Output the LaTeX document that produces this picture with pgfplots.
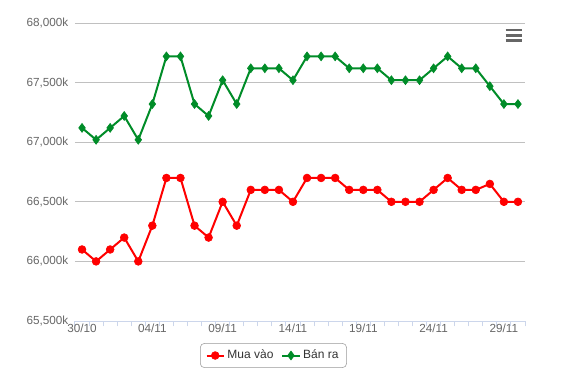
\documentclass[border=0pt]{standalone}
\usepackage{fontspec}
\setmainfont{Liberation Sans}
\usepackage{pgfplots}
\pgfplotsset{compat=1.18}
\definecolor{redline}{RGB}{255,0,0}
\definecolor{greenline}{RGB}{0,140,40}
\definecolor{gridc}{RGB}{192,192,192}
\definecolor{axisc}{RGB}{204,214,235}
\definecolor{labc}{RGB}{102,102,102}
\begin{document}
\begin{tikzpicture}
\begin{axis}[
  name=ax,
  scale only axis,
  width=337.5pt, height=223.5pt,
  xmin=-0.5, xmax=31.5,
  ymin=65500, ymax=68000,
  scaled y ticks=false,
  ytick={65500,66000,66500,67000,67500,68000},
  yticklabels={{65,500k},{66,000k},{66,500k},{67,000k},{67,500k},{68,000k}},
  xtick={0,5,10,15,20,25,30},
  xticklabels={30/10,04/11,09/11,14/11,19/11,24/11,29/11},
  minor xtick={-0.5,0.5,...,31.5},
  major tick length=0pt,
  minor tick length=4pt,
  tick align=outside,
  minor tick style={draw=axisc, line width=0.75pt},
  axis x line*=bottom,
  axis y line*=left,
  x axis line style={draw=axisc, line width=0.75pt, -},
  y axis line style={draw=none},
  ymajorgrids,
  grid style={draw=gridc, line width=0.75pt},
  ticklabel style={font=\fontsize{8.8pt}{10pt}\selectfont, text=labc},
  yticklabel style={xshift=-1.5pt},
  xticklabel style={yshift=1.5pt},
  /pgf/number format/assume math mode=true,
  legend style={at={(0.441,-0.1158)}, anchor=center, draw=gray!80, rounded corners=3pt,
    font=\fontsize{9pt}{11pt}\selectfont, text=black!80, legend columns=2,
    /tikz/every even column/.append style={column sep=4pt}, inner ysep=3pt, inner xsep=4pt},
  legend image code/.code={\draw[#1] (0pt,0pt) -- (0.45cm,0pt); \draw[#1, mark repeat=1] plot coordinates {(0.225cm,0pt)};},
  clip=false,
]
\addplot[redline, line width=1.5pt, mark=*, mark size=2.9pt, mark options={fill=redline, draw=redline, line width=0.5pt, solid}] coordinates {
(0,66100) (1,66000) (2,66100) (3,66200) (4,66000) (5,66300) (6,66700) (7,66700)
(8,66300) (9,66200) (10,66500) (11,66300) (12,66600) (13,66600) (14,66600) (15,66500)
(16,66700) (17,66700) (18,66700) (19,66600) (20,66600) (21,66600) (22,66500) (23,66500)
(24,66500) (25,66600) (26,66700) (27,66600) (28,66600) (29,66650) (30,66500) (31,66500)};
\addlegendentry{Mua vào}
\addplot[greenline, line width=1.5pt, mark=diamond*, mark size=3.3pt, mark options={fill=greenline, draw=greenline, line width=0.5pt, solid}] coordinates {
(0,67120) (1,67020) (2,67120) (3,67220) (4,67020) (5,67320) (6,67720) (7,67720)
(8,67320) (9,67220) (10,67520) (11,67320) (12,67620) (13,67620) (14,67620) (15,67520)
(16,67720) (17,67720) (18,67720) (19,67620) (20,67620) (21,67620) (22,67520) (23,67520)
(24,67520) (25,67620) (26,67720) (27,67620) (28,67620) (29,67470) (30,67320) (31,67320)};
\addlegendentry{Bán ra}
\end{axis}
\begin{scope}[shift={(ax.south west)}, x=0.75pt, y=0.75pt]
\draw[labc, line width=2.1pt] (430.7,291) -- (447.3,291);
\draw[labc, line width=2.1pt] (430.7,285.8) -- (447.3,285.8);
\draw[labc, line width=2.1pt] (430.7,280.6) -- (447.3,280.6);
\end{scope}
\pgfresetboundingbox
\path[use as bounding box] ([shift={(-56.25pt,-48.75pt)}]ax.south west) rectangle ([shift={(32.25pt,17.25pt)}]ax.north east);
\end{tikzpicture}
\end{document}
